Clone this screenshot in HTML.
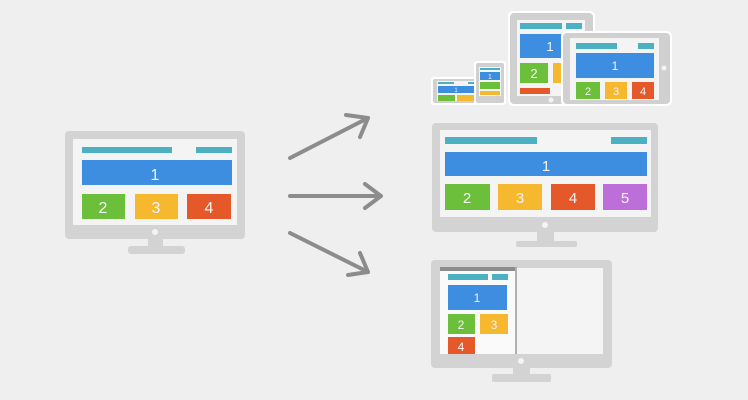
<!DOCTYPE html>
<html><head><meta charset="utf-8"><style>
html,body{margin:0;padding:0;background:#efefef;}
svg{display:block;}
text{font-family:"Liberation Sans",sans-serif;fill:#f4f4f4;text-anchor:middle;}
</style></head><body>
<svg width="748" height="400" viewBox="0 0 748 400" xmlns="http://www.w3.org/2000/svg">
<rect width="748" height="400" fill="#efefef"/>
<!-- left monitor -->
<rect x="65" y="131" width="180" height="108" rx="4" fill="#d3d3d3"/>
<rect x="73" y="139" width="164" height="86" fill="#f4f4f4"/>
<rect x="82" y="147" width="90" height="6" fill="#4bb1c2"/>
<rect x="196" y="147" width="36" height="6" fill="#4bb1c2"/>
<rect x="82" y="160" width="150" height="25" fill="#3d8ee0"/>
<text x="155" y="180" font-size="16">1</text>
<rect x="82" y="194" width="43" height="25" fill="#6cbf3b"/>
<text x="103" y="213" font-size="16">2</text>
<rect x="135" y="194" width="43" height="25" fill="#f5b82e"/>
<text x="156" y="213" font-size="16">3</text>
<rect x="187" y="194" width="44" height="25" fill="#e5582a"/>
<text x="209" y="213" font-size="16">4</text>
<circle cx="155" cy="232" r="3" fill="#f4f4f4"/>
<rect x="148" y="239" width="15" height="8" fill="#d3d3d3"/>
<rect x="128" y="246" width="57" height="8" rx="3" fill="#d3d3d3"/>
<!-- arrows -->
<g stroke="#8c8c8c" stroke-width="4" fill="none" stroke-linecap="round" stroke-linejoin="round">
<line x1="290" y1="158" x2="368" y2="118"/>
<polyline points="346,115 368,118 360,137"/>
<line x1="290" y1="196" x2="380" y2="196"/>
<polyline points="365,184 381,196 365,208"/>
<line x1="290" y1="233" x2="368" y2="272"/>
<polyline points="348,275 368,272 360,253"/>
</g>
<!-- middle monitor -->
<rect x="432" y="123" width="226" height="109" rx="4" fill="#d3d3d3"/>
<rect x="440" y="130" width="211" height="87" fill="#f4f4f4"/>
<rect x="445" y="137" width="92" height="7" fill="#4bb1c2"/>
<rect x="611" y="137" width="36" height="7" fill="#4bb1c2"/>
<rect x="445" y="152" width="202" height="24" fill="#3d8ee0"/>
<text x="546" y="171" font-size="15">1</text>
<rect x="445" y="184" width="45" height="26" fill="#6cbf3b"/>
<text x="467" y="203" font-size="15">2</text>
<rect x="498" y="184" width="44" height="26" fill="#f5b82e"/>
<text x="520" y="203" font-size="15">3</text>
<rect x="551" y="184" width="44" height="26" fill="#e5582a"/>
<text x="573" y="203" font-size="15">4</text>
<rect x="603" y="184" width="44" height="26" fill="#bd6fd9"/>
<text x="625" y="203" font-size="15">5</text>
<circle cx="545" cy="225" r="3" fill="#f4f4f4"/>
<rect x="537" y="232" width="17" height="12" fill="#d3d3d3"/>
<rect x="516" y="241" width="61" height="6" rx="2" fill="#d3d3d3"/>
<!-- bottom monitor -->
<rect x="431" y="260" width="181" height="108" rx="4" fill="#d3d3d3"/>
<rect x="440" y="268" width="163" height="86" fill="#f4f4f4"/>
<rect x="440" y="267" width="76" height="87" fill="#fafafa"/>
<rect x="440" y="267" width="76" height="4" fill="#8c8c8c"/>
<rect x="515" y="267" width="2" height="87" fill="#b0b0b0"/>
<rect x="448" y="274" width="40" height="6" fill="#4bb1c2"/>
<rect x="492" y="274" width="16" height="6" fill="#4bb1c2"/>
<rect x="448" y="285" width="59" height="25" fill="#3d8ee0"/>
<text x="477" y="302" font-size="12">1</text>
<rect x="448" y="314" width="27" height="20" fill="#6cbf3b"/>
<text x="461" y="329" font-size="12">2</text>
<rect x="480" y="314" width="28" height="20" fill="#f5b82e"/>
<text x="494" y="329" font-size="12">3</text>
<rect x="448" y="337" width="27" height="17" fill="#e5582a"/>
<text x="461" y="351" font-size="12">4</text>
<circle cx="521" cy="361" r="3" fill="#f4f4f4"/>
<rect x="513" y="368" width="17" height="8" fill="#d3d3d3"/>
<rect x="492" y="374" width="59" height="8" rx="2" fill="#d3d3d3"/>
<!-- landscape phone -->
<rect x="431" y="77" width="53" height="28" rx="3" fill="#fff"/>
<rect x="433" y="79" width="49" height="24" rx="2" fill="#d0d0d0"/>
<rect x="437" y="81" width="38" height="20" fill="#f4f4f4"/>
<rect x="438" y="82" width="16" height="2" fill="#4bb1c2"/>
<rect x="468" y="82" width="6" height="2" fill="#4bb1c2"/>
<rect x="438" y="86" width="36" height="7" fill="#3d8ee0"/>
<text x="456" y="92" font-size="6">1</text>
<rect x="438" y="95" width="17" height="6" fill="#6cbf3b"/>
<rect x="457" y="95" width="17" height="6" fill="#f5b82e"/>
<!-- portrait phone -->
<rect x="474" y="61" width="32" height="44" rx="3" fill="#fff"/>
<rect x="476" y="63" width="28" height="40" rx="2" fill="#d0d0d0"/>
<rect x="479" y="67" width="22" height="29" fill="#f4f4f4"/>
<rect x="480" y="68" width="20" height="2" fill="#4bb1c2"/>
<rect x="480" y="72" width="20" height="8" fill="#3d8ee0"/>
<text x="490" y="79" font-size="7">1</text>
<rect x="480" y="82" width="20" height="7" fill="#6cbf3b"/>
<rect x="480" y="91" width="20" height="4" fill="#f5b82e"/>
<!-- portrait tablet -->
<rect x="508" y="11" width="87" height="95" rx="5" fill="#fff"/>
<rect x="510" y="13" width="83" height="91" rx="4" fill="#d0d0d0"/>
<rect x="517" y="20" width="68" height="76" fill="#f4f4f4"/>
<rect x="520" y="23" width="42" height="6" fill="#4bb1c2"/>
<rect x="566" y="23" width="16" height="6" fill="#4bb1c2"/>
<rect x="520" y="34" width="60" height="24" fill="#3d8ee0"/>
<text x="550" y="51" font-size="13">1</text>
<rect x="520" y="63" width="28" height="20" fill="#6cbf3b"/>
<text x="534" y="78" font-size="13">2</text>
<rect x="553" y="63" width="28" height="20" fill="#f5b82e"/>
<rect x="520" y="88" width="30" height="6" fill="#e5582a"/>
<circle cx="551" cy="100" r="2.5" fill="#f4f4f4"/>
<!-- landscape tablet -->
<rect x="561" y="31" width="111" height="75" rx="5" fill="#fff"/>
<rect x="563" y="33" width="107" height="71" rx="4" fill="#d0d0d0"/>
<rect x="570" y="38" width="89" height="62" fill="#f4f4f4"/>
<rect x="576" y="43" width="41" height="6" fill="#4bb1c2"/>
<rect x="638" y="43" width="16" height="6" fill="#4bb1c2"/>
<rect x="576" y="53" width="78" height="25" fill="#3d8ee0"/>
<text x="615" y="70" font-size="12">1</text>
<rect x="576" y="82" width="24" height="17" fill="#6cbf3b"/>
<text x="588" y="95" font-size="11">2</text>
<rect x="605" y="82" width="22" height="17" fill="#f5b82e"/>
<text x="616" y="95" font-size="11">3</text>
<rect x="632" y="82" width="22" height="17" fill="#e5582a"/>
<text x="643" y="95" font-size="11">4</text>
<circle cx="664" cy="68" r="2.5" fill="#f4f4f4"/>
</svg>
</body></html>
